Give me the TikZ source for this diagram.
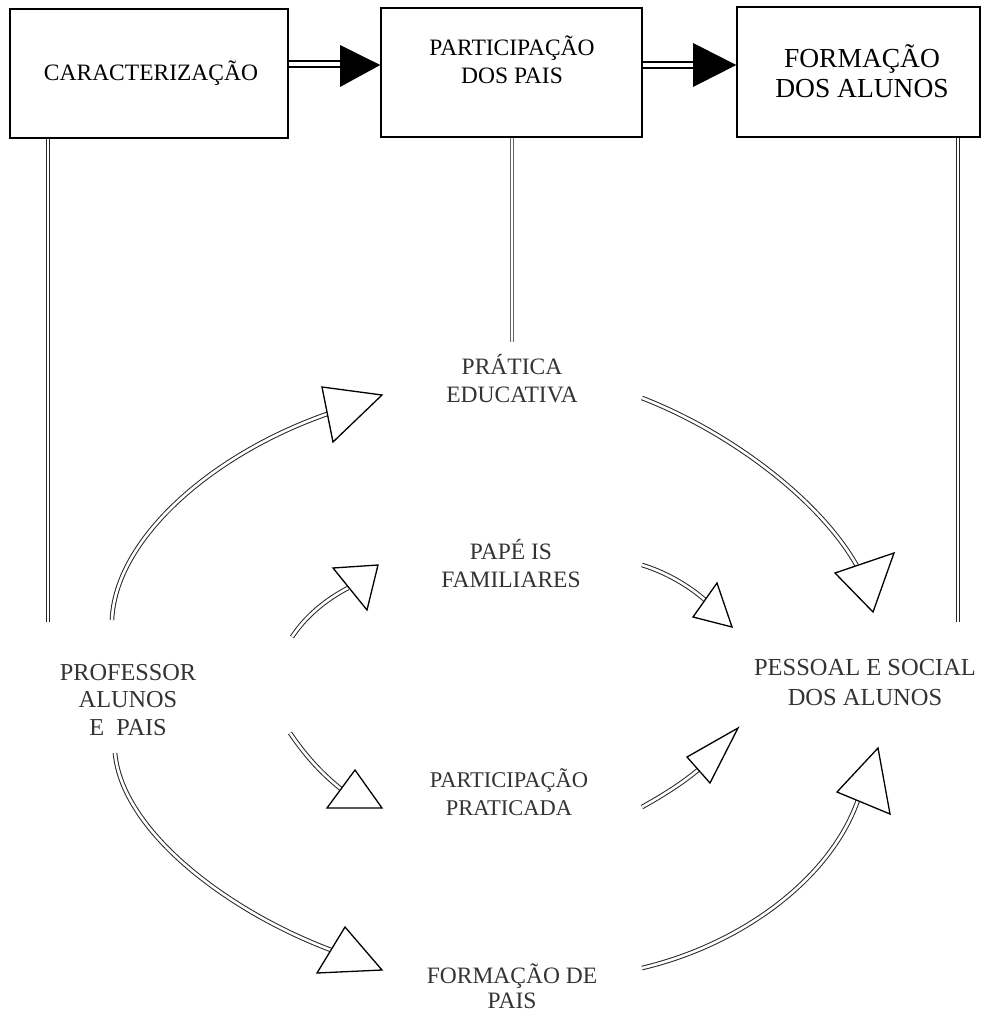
\documentclass[tikz,border=0pt]{standalone}
\usepackage{fontspec}
\setmainfont{Liberation Serif}
\begin{document}
\begin{tikzpicture}[x=1pt,y=-1pt,
  box/.style={draw, line width=1.4pt, inner sep=0pt},
  boxtext/.style={align=center, inner sep=0pt, anchor=base, font=\fontsize{23.5}{28}\selectfont},
  lbl/.style={align=center, inner sep=0pt, anchor=base, text=black!80, font=\fontsize{23.5}{28}\selectfont},
  dbl/.style={draw=black!85, line width=1pt, double=white, double distance=2.6pt},
  vdbl/.style={draw=black!85, line width=0.9pt, double=white, double distance=2.6pt},
  topdbl/.style={draw=black, line width=1.9pt, double=white, double distance=3.5pt},
  headopen/.style={draw=black, fill=white, line width=1.3pt, line join=miter},
  headfill/.style={fill=black}]
\useasboundingbox (0,0) rectangle (986,1017);

% top boxes
\node[box, minimum width=278pt, minimum height=129pt] (b1) at (149,73.5) {};
\node[box, minimum width=261pt, minimum height=129pt] (b2) at (511.5,72.5) {};
\node[box, minimum width=243pt, minimum height=130pt] (b3) at (858.5,72) {};
\node[boxtext, font=\fontsize{23.5}{28}\selectfont] (t1) at (151,80) {CARACTERIZAÇÃO};
\node[boxtext] (t2) at (512,83) {PARTICIPAÇÃO\\DOS PAIS};
\node[boxtext, font=\fontsize{27.5}{29.5}\selectfont] (t3) at (862,97) {FORMAÇÃO\\DOS ALUNOS};

% arrows between boxes
\coordinate (h1) at (340,64);
\coordinate (h2) at (693,65);
\draw[topdbl] (b1.east |- h1) -- (h1);
\fill[headfill] (340,45) -- (b2.west |- 0,65) -- (340,87) -- cycle;
\draw[topdbl] (b2.east |- h2) -- (h2);
\fill[headfill] (693,43) -- (b3.west |- 0,65) -- (693,87) -- cycle;

% vertical lines
\coordinate (v1) at (48,622);
\coordinate (v2) at (512,342);
\coordinate (v3) at (958,622);
\draw[vdbl] (v1 |- b1.south) -- (v1);
\draw[vdbl, draw=black!60] (v2 |- b2.south) -- (v2);
\draw[vdbl] (v3 |- b3.south) -- (v3);

% labels
\node[lbl] (pe) at (512,402) {PRÁTICA\\EDUCATIVA};
\node[lbl] (pf) at (511,587) {PAPÉ IS\\FAMILIARES};
\node[lbl, font=\fontsize{24.3}{27.5}\selectfont] (pa) at (128,735) {PROFESSOR\\ALUNOS\\E\ \ PAIS};
\node[lbl, font=\fontsize{24.5}{30}\selectfont] (ps) at (865,705) {PESSOAL E SOCIAL\\DOS ALUNOS};
\node[lbl, font=\fontsize{22.5}{28}\selectfont] (pp) at (509,815) {PARTICIPAÇÃO\\PRATICADA};
\node[lbl, font=\fontsize{23.5}{25}\selectfont] (fp) at (512,1008) {FORMAÇÃO DE\\PAIS};

% curved connectors
\coordinate (s1) at (112,620); \coordinate (e1) at (327,414);
\coordinate (s2) at (642,398); \coordinate (e2) at (857,566);
\coordinate (s3) at (292,637); \coordinate (e3) at (348,588);
\coordinate (s4) at (642,565); \coordinate (e4) at (705,600);
\coordinate (s5) at (290,733); \coordinate (e5) at (341,789);
\coordinate (s6) at (642,807); \coordinate (e6) at (698,770);
\coordinate (s7) at (115,753); \coordinate (e7) at (331,950);
\coordinate (s8) at (642,968); \coordinate (e8) at (858,800);

\draw[dbl] (s1) .. controls (115,540) and (210,455) .. (e1);
\draw[headopen] (322,387) -- (382,395) -- (333,442) -- cycle;

\draw[dbl] (s2) .. controls (730,432) and (820,500) .. (e2);
\draw[headopen] (835,573) -- (894,553) -- (873,612) -- cycle;

\draw[dbl] (s3) .. controls (305,617) and (325,600) .. (e3);
\draw[headopen] (333,568) -- (378,565) -- (367,610) -- cycle;

\draw[dbl] (s4) .. controls (665,572) and (688,585) .. (e4);
\draw[headopen] (693,617) -- (717,583) -- (732,627) -- cycle;

\draw[dbl] (s5) .. controls (305,755) and (320,772) .. (e5);
\draw[headopen] (327,808) -- (355,770) -- (382,808) -- cycle;

\draw[dbl] (s6) .. controls (660,797) and (680,785) .. (e6);
\draw[headopen] (687,757) -- (738,728) -- (710,783) -- cycle;

\draw[dbl] (s7) .. controls (122,830) and (225,910) .. (e7);
\draw[headopen] (317,973) -- (345,927) -- (382,970) -- cycle;

\draw[dbl] (s8) .. controls (740,945) and (830,880) .. (e8);
\draw[headopen] (837,792) -- (878,748) -- (890,814) -- cycle;
\end{tikzpicture}
\end{document}
